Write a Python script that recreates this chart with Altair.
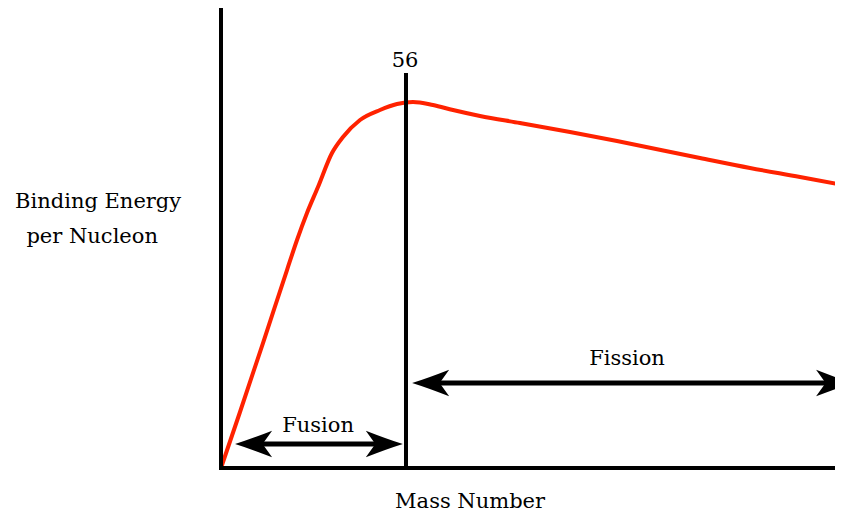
import altair as alt
import pandas as pd

# Binding energy curve (mass number vs binding energy per nucleon, arbitrary MeV-like units)
mass = [0, 5.75, 12.71, 19.98, 23.01, 26.03, 29.36, 33.60, 36.93, 42.08, 48.13, 53.28,
        58.12, 64.17, 70.23, 78.40, 90.51, 105.64, 119.87, 144.99, 160.13, 175.26, 188.28]
energy = [0, 1.345, 3.002, 4.755, 5.476, 6.124, 6.749, 7.565, 7.950, 8.358, 8.598, 8.742,
          8.792, 8.718, 8.598, 8.454, 8.286, 8.070, 7.854, 7.445, 7.205, 6.989, 6.797]

# Black line segments: axes, A=56 marker, arrow shafts
seg_x = [0, 0, 56, 10.0, 63.6]
seg_x2 = [0, 190, 56, 49.3, 185.6]
seg_y = [0, 0, 0, 0.576, 2.04]
seg_y2 = [11, 0, 9.44, 0.576, 2.04]
seg_w = [4, 4, 4, 5, 5]

# Arrow heads
head_x = [10.0, 49.3, 63.6, 185.6]
head_y = [0.576, 0.576, 2.04, 2.04]
head_dir = ["left", "right", "left", "right"]

# Labels
lab_text = ["Binding Energy", "per Nucleon", "Mass Number", "Fission", "Fusion", "56"]
lab_x = [-37.2, -39.0, 75.4, 122.9, 29.4, 55.7]
lab_y = [6.245, 5.40, -0.96, 2.474, 0.865, 9.63]

curve = pd.DataFrame({"A": mass, "E": energy})
segs = pd.DataFrame({"x": seg_x, "x2": seg_x2, "y": seg_y, "y2": seg_y2, "w": seg_w})
heads = pd.DataFrame({"x": head_x, "y": head_y, "dir": head_dir})
labels = pd.DataFrame({"t": lab_text, "x": lab_x, "y": lab_y})

xs = alt.Scale(domain=[0, 185.86], nice=False, zero=False)
ys = alt.Scale(domain=[0, 11], nice=False, zero=False)

line = alt.Chart(curve).mark_line(color="#ff2200", strokeWidth=4, interpolate="monotone").encode(
    x=alt.X("A:Q", scale=xs, axis=None),
    y=alt.Y("E:Q", scale=ys, axis=None),
)

rules_axes = alt.Chart(segs).mark_rule(color="black", strokeCap="square").encode(
    x=alt.X("x:Q", scale=xs, axis=None),
    x2="x2:Q",
    y=alt.Y("y:Q", scale=ys, axis=None),
    y2="y2:Q",
    strokeWidth=alt.StrokeWidth("w:Q", scale=None),
)

left_path = "M -1 0 Q -0.2 -0.25 0.95 -0.7 L 0.45 0 L 0.95 0.7 Q -0.2 0.25 -1 0 Z"
right_path = "M 1 0 Q 0.2 -0.25 -0.95 -0.7 L -0.45 0 L -0.95 0.7 Q 0.2 0.25 1 0 Z"

lheads = alt.Chart(heads).transform_filter(alt.datum.dir == "left").mark_point(
    shape=left_path, size=1444, filled=True, color="black", opacity=1, strokeWidth=0
).encode(x=alt.X("x:Q", scale=xs, axis=None), y=alt.Y("y:Q", scale=ys, axis=None))

rheads = alt.Chart(heads).transform_filter(alt.datum.dir == "right").mark_point(
    shape=right_path, size=1444, filled=True, color="black", opacity=1, strokeWidth=0
).encode(x=alt.X("x:Q", scale=xs, axis=None), y=alt.Y("y:Q", scale=ys, axis=None))

text = alt.Chart(labels).mark_text(
    font="DejaVu Serif", fontSize=21, color="black", align="center", baseline="alphabetic"
).encode(
    x=alt.X("x:Q", scale=xs, axis=None),
    y=alt.Y("y:Q", scale=ys, axis=None),
    text="t:N",
)

chart = alt.layer(line, rules_axes, lheads, rheads, text).properties(
    width=614,
    height=458,
    background="white",
    autosize=alt.AutoSizeParams(type="none"),
    padding={"left": 213, "top": 2, "right": 0, "bottom": 45},
).configure_view(strokeWidth=0, stroke="transparent")

chart.save("out.html", embed_options={"renderer": "svg", "actions": False})
